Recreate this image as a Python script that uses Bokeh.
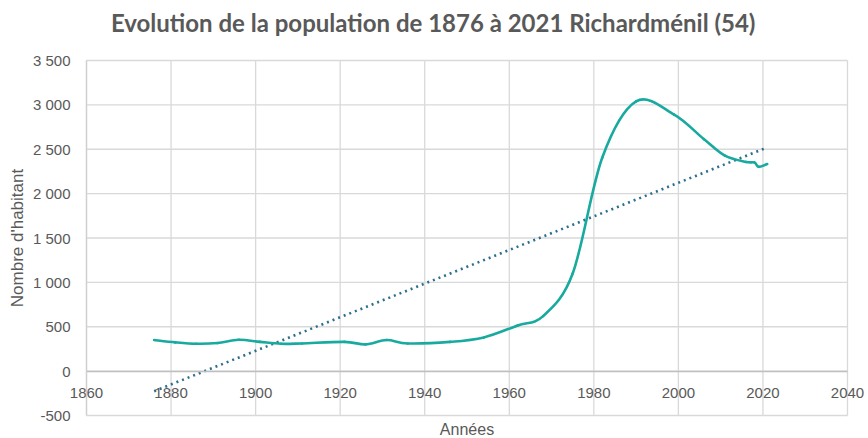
import numpy as np
from bokeh.plotting import figure
from bokeh.models import FixedTicker, Range1d, Label
from bokeh.embed import file_html
from bokeh.resources import INLINE

# ---- data ----
years = [1876, 1881, 1886, 1891, 1896, 1901, 1906, 1911, 1921, 1926, 1931, 1936,
         1946, 1954, 1962, 1968, 1975, 1982, 1990, 1999, 2006, 2011, 2016, 2018,
         2019, 2021]
population = [350, 324, 308, 316, 353, 330, 308, 312, 330, 301, 350, 312,
              330, 380, 515, 620, 1100, 2407, 3040, 2890, 2615, 2427, 2357, 2350,
              2302, 2333]

trend_years = [1876, 2021]
trend_values = [-226, 2520]

x_ticks = [1860, 1880, 1900, 1920, 1940, 1960, 1980, 2000, 2020, 2040]
x_tick_labels = ["1860", "1880", "1900", "1920", "1940", "1960", "1980", "2000", "2020", "2040"]
y_ticks = [-500, 0, 500, 1000, 1500, 2000, 2500, 3000, 3500]
y_tick_labels = ["-500", "0", "500", "1 000", "1 500", "2 000", "2 500", "3 000", "3 500"]

title_text = "Evolution de la population de 1876 à 2021 Richardménil (54)"
x_title = "Années"
y_title = "Nombre d'habitant"

GRAY_TEXT = "#595959"
GRID = "#d9d9d9"

# ---- layout: frame spans the whole canvas; chart box 1860..2040 x -500..3500 ----
W, H = 868, 438
box_left, box_right, box_top, box_bottom = 86, 847, 60, 415
x0, x1 = x_ticks[0], x_ticks[-1]
y0, y1 = y_ticks[0], y_ticks[-1]
kx = (box_right - box_left) / (x1 - x0)
ky = (box_bottom - box_top) / (y1 - y0)
xr = Range1d(x0 - box_left / kx, x1 + (W - box_right) / kx)
yr = Range1d(y0 - (H - box_bottom) / ky, y1 + box_top / ky)

p = figure(frame_width=W, frame_height=H, output_backend="svg", toolbar_location=None,
           x_range=xr, y_range=yr,
           min_border_left=0, min_border_right=0, min_border_top=0, min_border_bottom=0)
p.outline_line_color = None
p.background_fill_color = "white"
p.border_fill_color = "white"
p.xgrid.visible = False
p.ygrid.visible = False

# grid lines limited to the chart box
p.segment(x0=x_ticks, y0=[y0] * len(x_ticks), x1=x_ticks, y1=[y1] * len(x_ticks),
          line_color=GRID, line_width=1.3)
p.segment(x0=[x0] * len(y_ticks), y0=y_ticks, x1=[x1] * len(y_ticks), y1=y_ticks,
          line_color=GRID, line_width=1.3)

# x axis crossing at 0
xa = p.xaxis[0]
xa.fixed_location = 0
xa.bounds = (x0, x1)
xa.ticker = FixedTicker(ticks=x_ticks)
xa.major_label_overrides = {t: l for t, l in zip(x_ticks, x_tick_labels)}
xa.axis_line_color = "#bfbfbf"
xa.axis_line_width = 1.5
xa.major_tick_line_color = None
xa.minor_tick_line_color = None
xa.major_tick_out = 0
xa.major_tick_in = 0
xa.major_label_standoff = 17
xa.major_label_text_font = "Liberation Sans"
xa.major_label_text_font_size = "15px"
xa.major_label_text_color = GRAY_TEXT

# y axis at 1860
ya = p.yaxis[0]
ya.fixed_location = x0
ya.bounds = (y0, y1)
ya.ticker = FixedTicker(ticks=y_ticks)
ya.major_label_overrides = {t: l for t, l in zip(y_ticks, y_tick_labels)}
ya.axis_line_color = "#cfcfcf"
ya.axis_line_width = 1.3
ya.major_tick_line_color = None
ya.minor_tick_line_color = None
ya.major_tick_out = 0
ya.major_tick_in = 0
ya.major_label_standoff = 16
ya.major_label_text_font = "Liberation Sans"
ya.major_label_text_font_size = "15px"
ya.major_label_text_color = GRAY_TEXT
ya.axis_label = y_title
ya.axis_label_text_font = "Liberation Sans"
ya.axis_label_text_font_size = "17px"
ya.axis_label_text_font_style = "normal"
ya.axis_label_text_color = GRAY_TEXT
ya.axis_label_standoff = 3

# title and x axis title
p.add_layout(Label(x=1942, y=y1, y_offset=38, text=title_text, text_align="center",
                   text_baseline="middle", text_font="Lato", text_font_style="bold",
                   text_font_size="24px", text_color=GRAY_TEXT))
p.add_layout(Label(x=1950, y=y0, y_offset=-14, text=x_title, text_align="center",
                   text_baseline="middle", text_font="Liberation Sans",
                   text_font_size="16px", text_color=GRAY_TEXT))

# trend line
p.line(trend_years, trend_values, line_color="#2a6f8f", line_width=2.6, line_dash="2 4")

# smoothed population line (Catmull-Rom style Bezier through the data points,
# like a spreadsheet "smoothed line")
X = np.asarray(years, dtype=float)
Y = np.asarray(population, dtype=float)
Xp = np.concatenate([[X[0]], X, [X[-1]]])
Yp = np.concatenate([[Y[0]], Y, [Y[-1]]])
n = len(X) - 1
cx0 = X[:n] + (Xp[2:n + 2] - Xp[0:n]) / 6.0
cy0 = Y[:n] + (Yp[2:n + 2] - Yp[0:n]) / 6.0
cx1 = X[1:] - (Xp[3:n + 3] - Xp[1:n + 1]) / 6.0
cy1 = Y[1:] - (Yp[3:n + 3] - Yp[1:n + 1]) / 6.0
p.bezier(x0=X[:n], y0=Y[:n], x1=X[1:], y1=Y[1:], cx0=cx0, cy0=cy0, cx1=cx1, cy1=cy1,
         line_color="#18aa9f", line_width=2.6, line_cap="round")

open("out.html", "w").write(file_html(p, INLINE))
